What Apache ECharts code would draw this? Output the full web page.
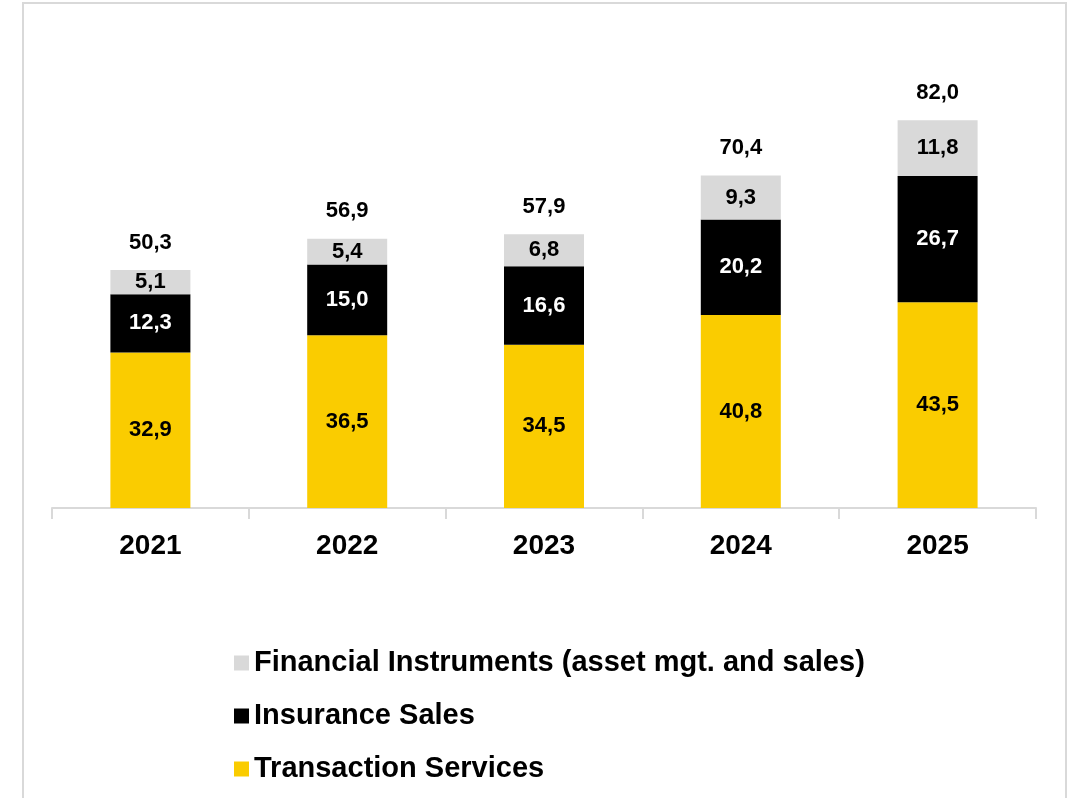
<!DOCTYPE html>
<html>
<head>
<meta charset="utf-8">
<script src="https://cdn.jsdelivr.net/npm/echarts@6/dist/echarts.min.js"></script>
<style>
  html, body { margin: 0; padding: 0; background: #ffffff; }
  #chart { width: 1074px; height: 798px; }
</style>
</head>
<body>
<div id="chart"></div>
<script>
// Revenue breakdown by business line, 2021–2025
const years = ['2021', '2022', '2023', '2024', '2025'];
const transactionServices = [32.9, 36.5, 34.5, 40.8, 43.5];
const insuranceSales = [12.3, 15.0, 16.6, 20.2, 26.7];
const financialInstruments = [5.1, 5.4, 6.8, 9.3, 11.8];
const totals = [50.3, 56.9, 57.9, 70.4, 82.0];

const FONT = '"Liberation Sans", Arial, sans-serif';
const YELLOW = '#FACC00';
const GREY = '#D9D9D9';
const BLACK = '#000000';

// decimal comma, one digit
const fmt = v => v.toFixed(1).replace('.', ',');

function segment(name, data, color, textColor) {
  return {
    name: name,
    type: 'bar',
    stack: 'total',
    barWidth: 80,
    data: data,
    itemStyle: { color: color },
    label: {
      show: true,
      position: 'inside',
      color: textColor,
      fontFamily: FONT,
      fontWeight: 'bold',
      fontSize: 22,
      formatter: p => fmt(p.value)
    },
    emphasis: { disabled: true }
  };
}

const chart = echarts.init(document.getElementById('chart'), null, { renderer: 'canvas' });

chart.setOption({
  backgroundColor: '#ffffff',
  animation: false,
  textStyle: { fontFamily: FONT },
  graphic: [{
    type: 'rect',
    shape: { x: 23, y: 3, width: 1043, height: 820 },
    style: { fill: 'none', stroke: GREY, lineWidth: 2 },
    silent: true,
    z: -1
  }],
  grid: { left: 52, right: 38, top: 35, bottom: 290 },
  xAxis: {
    type: 'category',
    data: years,
    axisLine: { show: true, lineStyle: { color: GREY, width: 2 } },
    axisTick: { show: true, length: 11, lineStyle: { color: GREY, width: 2 } },
    axisLabel: {
      color: BLACK,
      fontFamily: FONT,
      fontWeight: 'bold',
      fontSize: 28,
      margin: 24
    }
  },
  yAxis: {
    type: 'value',
    min: 0,
    max: 100,
    show: false,
    splitLine: { show: false }
  },
  legend: {
    orient: 'vertical',
    left: 229,
    top: 643,
    itemWidth: 15,
    itemHeight: 15,
    itemGap: 23,
    icon: 'rect',
    data: ['Financial Instruments (asset mgt. and sales)', 'Insurance Sales', 'Transaction Services'],
    textStyle: {
      color: BLACK,
      fontFamily: FONT,
      fontWeight: 'bold',
      fontSize: 29,
      lineHeight: 30
    }
  },
  series: [
    segment('Transaction Services', transactionServices, YELLOW, BLACK),
    segment('Insurance Sales', insuranceSales, BLACK, '#ffffff'),
    segment('Financial Instruments (asset mgt. and sales)', financialInstruments, GREY, BLACK),
    {
      // stack totals, written above each column
      name: 'Total',
      type: 'scatter',
      data: totals,
      symbolSize: 1,
      silent: true,
      itemStyle: { color: 'rgba(0,0,0,0)', opacity: 1 },
      label: {
        show: true,
        position: 'top',
        distance: 16,
        color: BLACK,
        opacity: 1,
        fontFamily: FONT,
        fontWeight: 'bold',
        fontSize: 22,
        formatter: p => fmt(p.value)
      }
    }
  ]
});
</script>
</body>
</html>
